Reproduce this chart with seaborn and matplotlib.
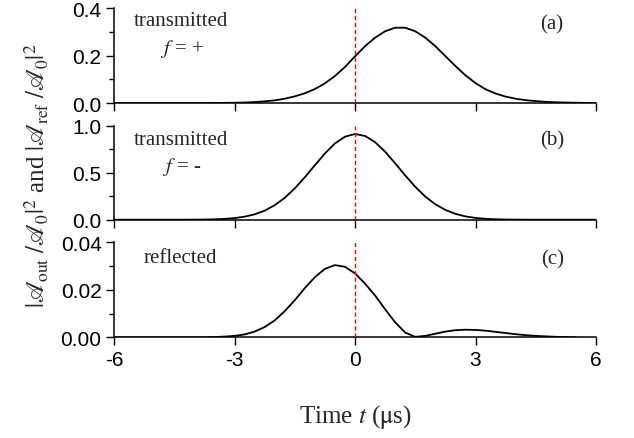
import numpy as np
import pandas as pd
import matplotlib
matplotlib.use("Agg")
import matplotlib.pyplot as plt
import seaborn as sns
from matplotlib.ticker import MultipleLocator

# ---------------- data ----------------
time_us = [-6.0, -5.75, -5.5, -5.25, -5.0, -4.75, -4.5, -4.25, -4.0, -3.75, -3.5, -3.25,
           -3.0, -2.75, -2.5, -2.25, -2.0, -1.75, -1.5, -1.25, -1.0, -0.75, -0.5, -0.25,
           0.0, 0.25, 0.5, 0.75, 1.0, 1.25, 1.5, 1.75, 2.0, 2.25, 2.5, 2.75,
           3.0, 3.25, 3.5, 3.75, 4.0, 4.25, 4.5, 4.75, 5.0, 5.25, 5.5, 5.75, 6.0]

# (a) transmitted, f = +
trans_plus = [0.0, 0.0, 0.0, 0.0, 0.0, 0.0, 0.0, 0.0, 0.0, 0.0, 0.0, 0.0005,
              0.001, 0.002, 0.004, 0.007, 0.011, 0.018, 0.028, 0.041, 0.059, 0.083, 0.114, 0.152,
              0.197, 0.240, 0.276, 0.303, 0.318, 0.318, 0.303, 0.276, 0.240, 0.198, 0.156, 0.117,
              0.084, 0.058, 0.040, 0.027, 0.018, 0.012, 0.008, 0.005, 0.003, 0.002, 0.001, 0.0005, 0.0003]

# (b) transmitted, f = -
trans_minus = [0.0, 0.0, 0.0, 0.0, 0.0, 0.0, 0.0, 0.0, 0.0008, 0.0018, 0.0041, 0.0086,
               0.017, 0.032, 0.057, 0.096, 0.154, 0.232, 0.333, 0.451, 0.579, 0.704, 0.811, 0.883,
               0.912, 0.891, 0.825, 0.723, 0.600, 0.471, 0.350, 0.246, 0.164, 0.104, 0.062, 0.035,
               0.019, 0.0096, 0.0046, 0.0021, 0.0009, 0.0, 0.0, 0.0, 0.0, 0.0, 0.0, 0.0, 0.0]

# (c) reflected
reflected = [0.0, 0.0, 0.0, 0.0, 0.0, 0.0, 0.0, 0.0, 0.0, 0.0, 0.0001, 0.0003,
             0.0006, 0.0012, 0.0024, 0.0043, 0.0071, 0.0110, 0.0156, 0.0207, 0.0253, 0.0288, 0.0304, 0.0297,
             0.0269, 0.0226, 0.0176, 0.0118, 0.0063, 0.0020, 0.0002, 0.0006, 0.0015, 0.0024, 0.0030, 0.0032,
             0.0031, 0.0028, 0.0023, 0.0018, 0.0013, 0.0009, 0.0006, 0.0004, 0.0002, 0.0001, 0.0, None, None]

panel_tags = ["(a)", "(b)", "(c)"]
x_ticks = [-6, -3, 0, 3, 6]
x_tick_labels = ["-6", "-3", "0", "3", "6"]

# ---------------- style ----------------
sns.set_theme(style="ticks")
plt.rcParams["font.family"] = ["Liberation Sans", "DejaVu Sans"]
plt.rcParams["mathtext.fontset"] = "stix"
plt.rcParams["axes.unicode_minus"] = False

SERIF = ["Liberation Serif", "DejaVu Serif"]

fig = plt.figure(figsize=(6.34, 4.39), dpi=100)

W, H = 634.0, 439.0
left_px, right_px = 114.0, 596.0
panels_px = [(9.3, 104.0), (126.7, 220.7), (243.3, 338.3)]

def rect(top, bot):
    return [left_px / W, 1 - bot / H, (right_px - left_px) / W, (bot - top) / H]

axes = [fig.add_axes(rect(*p)) for p in panels_px]

series = [trans_plus, trans_minus, reflected]
ylims = [(0, 0.4), (0, 1.0), (0, 0.04)]
majors = [0.2, 0.5, 0.02]
minors = [0.1, 0.25, 0.01]
fmts = ["{:.1f}", "{:.1f}", "{:.2f}"]

for i, ax in enumerate(axes):
    df = pd.DataFrame({"t": time_us, "v": series[i]}).dropna()
    sns.lineplot(data=df, x="t", y="v", ax=ax, color="black", lw=1.3)
    ax.axvline(0, color="#ff0000", lw=1.0, ls=(0, (3, 2)), zorder=3)
    ax.set_xlim(-6, 6)
    ax.set_ylim(*ylims[i])
    ax.yaxis.set_major_locator(MultipleLocator(majors[i]))
    ax.yaxis.set_minor_locator(MultipleLocator(minors[i]))
    ax.set_xticks(x_ticks)
    ax.set_yticklabels([fmts[i].format(v) for v in ax.get_yticks()])
    ax.tick_params(axis="both", which="major", direction="out", length=6, width=1.0,
                   labelsize=15, pad=3, color="black", labelcolor="black")
    ax.tick_params(axis="y", which="minor", direction="out", length=3.5, width=1.0, color="black")
    ax.set_xlabel("")
    ax.set_ylabel("")
    for s in ["left", "bottom"]:
        ax.spines[s].set_linewidth(1.1)
        ax.spines[s].set_color("black")
    sns.despine(ax=ax)
    ax.set_facecolor("none")
    if i < 2:
        ax.set_xticklabels([])
    else:
        ax.set_xticklabels(x_tick_labels)
    ax.text(0.909, [0.834, 0.848, 0.823][i], panel_tags[i], transform=ax.transAxes,
            ha="center", va="center", fontsize=15, family=SERIF)

axes[0].text(0.139, 0.866, "transmitted", transform=axes[0].transAxes,
             ha="center", va="center", fontsize=15, family=SERIF)
axes[0].text(0.141, 0.58, r"$f$ = +", transform=axes[0].transAxes,
             ha="center", va="center", fontsize=15, family=SERIF)
axes[1].text(0.139, 0.848, "transmitted", transform=axes[1].transAxes,
             ha="center", va="center", fontsize=15, family=SERIF)
axes[1].text(0.141, 0.571, r"$f$ = -", transform=axes[1].transAxes,
             ha="center", va="center", fontsize=15, family=SERIF)
axes[2].text(0.137, 0.845, "reflected", transform=axes[2].transAxes,
             ha="center", va="center", fontsize=15, family=SERIF)

fig.text(0.561, 0.05, r"Time $t$ ($\mathrm{\mu}$s)", ha="center", va="center",
         fontsize=18, family=SERIF)
fig.text(0.058, 0.60,
         r"$|\mathscr{A}_{\mathrm{out}}\ /\mathscr{A}_0|^2$ and $|\mathscr{A}_{\mathrm{ref}}\ /\mathscr{A}_0|^2$",
         rotation=90, ha="center", va="center", fontsize=18, family=SERIF)

fig.savefig("out.png", dpi=100, facecolor="white")
